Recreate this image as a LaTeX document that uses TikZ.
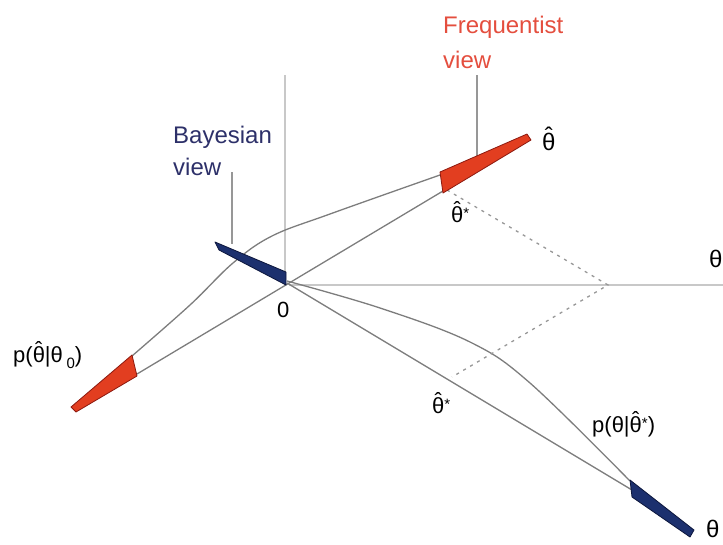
\documentclass[tikz,border=0pt]{standalone}
\usepackage{fontspec}
\setmainfont{Liberation Sans}
\definecolor{fred}{RGB}{226,62,32}
\definecolor{fredd}{RGB}{140,25,15}
\definecolor{bblue}{RGB}{28,48,110}
\definecolor{bblued}{RGB}{12,22,60}
\definecolor{axg}{RGB}{200,200,200}
\definecolor{lng}{RGB}{125,125,125}
\definecolor{ftxt}{RGB}{228,78,62}
\definecolor{btxt}{RGB}{45,48,105}
\newcommand{\hth}{\ooalign{θ\cr\hidewidth\raisebox{0.22em}{ˆ}\hidewidth\cr}}
\newcommand{\stx}{{\fontsize{15}{15}\selectfont\raisebox{0.25em}{*}}}
\begin{document}
\begin{tikzpicture}[x=1pt,y=-1pt,
  axis/.style={draw=axg,line width=2pt},
  thin line/.style={draw=lng,line width=1.3pt},
  leader/.style={draw=lng!80,line width=1.3pt},
  dashline/.style={draw=lng!80,line width=1.3pt,dash pattern=on 3pt off 5pt},
  redbar/.style={fill=fred,draw=fredd,line width=0.8pt,line join=round},
  bluebar/.style={fill=bblue,draw=bblued,line width=0.8pt,line join=round},
  lab/.style={inner sep=0pt,align=left},
  mlab/.style={font=\fontsize{22}{26}\selectfont,inner sep=0pt}]
\useasboundingbox (0,0) rectangle (723,544);
% key points
\coordinate (O) at (287,283);
\coordinate (vtop) at (285,75);
\coordinate (vbot) at (285,280);
\coordinate (hst) at (289,285);
\coordinate (hend) at (723,285);
\coordinate (Hlo) at (137,374);
\coordinate (Hup) at (443,191);
\coordinate (Tlo) at (632,490);
\coordinate (Hs1) at (447,190);
\coordinate (P) at (608,285);
\coordinate (Hs2) at (452,377);
\coordinate (bl1) at (232,172);
\coordinate (bl2) at (232,244);
\coordinate (fl1) at (477,75);
\coordinate (fl2) at (477,166);
% axes
\draw[axis] (vtop) -- (vbot);
\draw[axis] (hst) -- (hend);
% leaders
\draw[leader] (bl1) -- (bl2);
\draw[leader] (fl1) -- (fl2);
% straight axes
\draw[thin line] (Hlo) -- (Hup);
\draw[thin line] (O) -- (Tlo);
% curves
\draw[thin line] plot[smooth,tension=0.6] coordinates {(132,356) (190,305) (233,263) (272,236) (330,214) (440,175)};
\draw[thin line] plot[smooth,tension=0.6] coordinates {(287,281) (380,308) (470,342) (530,383) (630,481)};
% dashed
\draw[dashline] (Hs1) -- (P) -- (Hs2);
% bars
\draw[redbar] (440,172) -- (527,134) -- (531,140) -- (443,193) -- cycle;
\draw[redbar] (132,355) -- (137,376) -- (76,412) -- (71,407) -- cycle;
\draw[bluebar] (215,242) -- (286,272) -- (286,285) -- (219,250) -- cycle;
\draw[bluebar] (630,480) -- (694,530) -- (690,537) -- (632,497) -- cycle;
% labels
\node[lab,font=\fontsize{24}{35}\selectfont,text=ftxt,anchor=base west] (freq) at (443,68) {Frequentist\\view};
\node[lab,font=\fontsize{24}{32}\selectfont,text=btxt,anchor=base west] (bayes) at (173,175) {Bayesian\\view};
\node[mlab,anchor=base west] (thhat) at (542,150) {\fontsize{24}{24}\selectfont\hth};
\node[mlab,anchor=base west] (thr) at (709,267) {\fontsize{24}{24}\selectfont θ};
\node[mlab,anchor=base west] (thb) at (706,537) {\fontsize{24}{24}\selectfont θ};
\node[mlab,anchor=base west] (zero) at (277,317) {0};
\node[mlab,anchor=base west] (hs1l) at (451,222) {\hth\stx};
\node[mlab,anchor=base west] (hs2l) at (432,413) {\hth\stx};
\node[mlab,anchor=base west] (pl) at (13,362) {p(\hth|θ\,\raisebox{-0.3em}{\fontsize{15}{15}\selectfont 0})};
\node[mlab,anchor=base west] (pr) at (592,432) {p(θ|\hth\stx)};
\end{tikzpicture}
\end{document}
